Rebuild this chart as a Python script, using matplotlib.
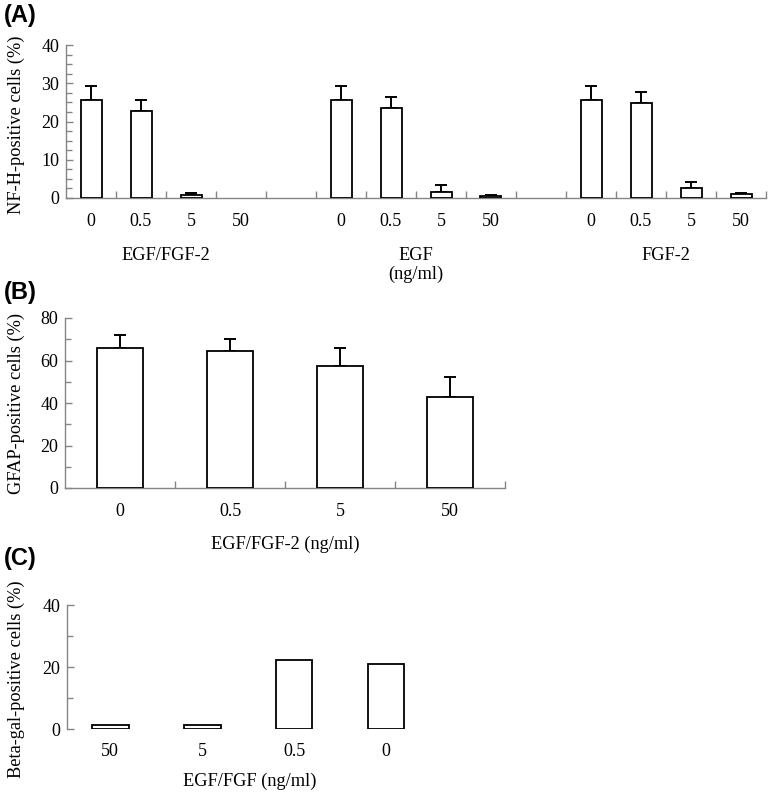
import numpy as np
import matplotlib
matplotlib.use("Agg")
import matplotlib.pyplot as plt
from matplotlib.ticker import MultipleLocator

plt.rcParams["font.family"] = ["Liberation Serif", "DejaVu Serif"]

# (A) NF-H-positive cells
doses_a = ["0", "0.5", "5", "50"]
groups_a = ["EGF/FGF-2", "EGF\n(ng/ml)", "FGF-2"]
nfh_egf_fgf2 = [25.6, 22.7, 0.9, 0.0]
nfh_egf_fgf2_err = [3.7, 2.9, 0.3, 0.0]
nfh_egf = [25.6, 23.6, 1.6, 0.5]
nfh_egf_err = [3.7, 2.8, 1.8, 0.3]
nfh_fgf2 = [25.6, 24.8, 2.5, 1.0]
nfh_fgf2_err = [3.7, 2.9, 1.6, 0.3]

# (B) GFAP-positive cells
doses_b = ["0", "0.5", "5", "50"]
gfap = [65.7, 64.5, 57.6, 42.8]
gfap_err = [6.3, 5.8, 8.1, 9.6]

# (C) Beta-gal-positive cells
doses_c = ["50", "5", "0.5", "0"]
betagal = [1.2, 1.2, 22.3, 21.1]

W, H = 773, 792
fig = plt.figure(figsize=(W / 100, H / 100), dpi=100)

gray = "#858585"
tick_fs = 13
lab_fs = 13.2


def style(ax):
    for s in ["top", "right"]:
        ax.spines[s].set_visible(False)
    for s in ["left", "bottom"]:
        ax.spines[s].set_color(gray)
        ax.spines[s].set_linewidth(1.0)
    ax.tick_params(axis="y", which="major", direction="in", length=5, width=1,
                   color=gray, labelsize=tick_fs, pad=5)
    ax.tick_params(axis="y", which="minor", direction="in", length=4, width=1,
                   color=gray)


def draw_bars(ax, pos, vals, errs=None, width=0.42):
    vals = np.asarray(vals)
    pos = np.asarray(pos)
    keep = vals > 0
    if errs is not None:
        errs = np.asarray(errs)
        ax.errorbar(pos[keep], vals[keep], yerr=[np.zeros(keep.sum()), errs[keep]],
                    fmt="none", ecolor="black", elinewidth=1.4, capsize=4.5,
                    capthick=1.4, zorder=2)
    ax.bar(pos[keep], vals[keep], width=width, color="white", edgecolor="black",
           linewidth=1.3, zorder=3)


def box(l, r, t, b):
    return [l / W, 1 - b / H, (r - l) / W, (b - t) / H]


# ---- panel A ----
axA = fig.add_axes(box(66, 766, 45, 198))
style(axA)
series_a = [(nfh_egf_fgf2, nfh_egf_fgf2_err), (nfh_egf, nfh_egf_err), (nfh_fgf2, nfh_fgf2_err)]
centers = []
labels = []
for g, (v, e) in enumerate(series_a):
    pos = [g * 5 + i + 0.5 for i in range(len(doses_a))]
    draw_bars(axA, pos, v, e)
    centers += pos
    labels += doses_a
    axA.text(g * 5 + 2, -0.32, groups_a[g], transform=axA.get_xaxis_transform(),
             ha="center", va="top", fontsize=lab_fs, linespacing=1.1)
axA.set_xlim(0, 14)
axA.set_ylim(0, 40)
axA.yaxis.set_major_locator(MultipleLocator(10))
axA.yaxis.set_minor_locator(MultipleLocator(2.5))
axA.set_xticks(centers)
axA.set_xticklabels(labels)
axA.set_xticks(np.arange(1, 15), minor=True)
axA.tick_params(axis="x", which="major", length=0, labelsize=tick_fs, pad=11)
axA.tick_params(axis="x", which="minor", direction="in", length=5, width=1, color=gray)
axA.set_ylabel("NF-H-positive cells (%)", fontsize=lab_fs)
axA.yaxis.set_label_coords(-0.059, 0.48)

# ---- panel B ----
axB = fig.add_axes(box(65, 505, 318, 488))
style(axB)
xb = np.arange(len(doses_b)) + 0.5
draw_bars(axB, xb, gfap, gfap_err)
axB.set_xlim(0, 4)
axB.set_ylim(0, 80)
axB.yaxis.set_major_locator(MultipleLocator(20))
axB.yaxis.set_minor_locator(MultipleLocator(10))
axB.set_xticks(xb)
axB.set_xticklabels(doses_b)
axB.set_xticks(np.arange(1, 5), minor=True)
axB.tick_params(axis="x", which="major", length=0, labelsize=tick_fs, pad=11)
axB.tick_params(axis="x", which="minor", direction="in", length=5, width=1, color=gray)
axB.set_xlabel("EGF/FGF-2 (ng/ml)", fontsize=lab_fs, labelpad=11)
axB.set_ylabel("GFAP-positive cells (%)", fontsize=lab_fs)
axB.yaxis.set_label_coords(-0.092, 0.5)

# ---- panel C ----
axC = fig.add_axes(box(67, 432, 605, 729))
style(axC)
axC.spines["bottom"].set_visible(False)
xc = np.arange(len(doses_c))
draw_bars(axC, xc, betagal, width=0.4)
axC.set_xlim(-0.47, 3.5)
axC.set_ylim(0, 40)
axC.yaxis.set_major_locator(MultipleLocator(20))
axC.yaxis.set_minor_locator(MultipleLocator(10))
axC.set_xticks(xc)
axC.set_xticklabels(doses_c)
axC.tick_params(axis="x", which="major", length=0, labelsize=tick_fs, pad=10)
axC.set_xlabel("EGF/FGF (ng/ml)", fontsize=lab_fs, labelpad=9)
axC.set_ylabel("Beta-gal-positive cells (%)", fontsize=lab_fs)
axC.yaxis.set_label_coords(-0.115, 0.40)

for lbl, ytop in [("(A)", 4), ("(B)", 281), ("(C)", 547)]:
    fig.text(4 / W, 1 - ytop / H, lbl, ha="left", va="top", fontsize=17,
             fontweight="bold", family=["Liberation Sans", "DejaVu Sans"])

fig.savefig("out.png", dpi=100)
